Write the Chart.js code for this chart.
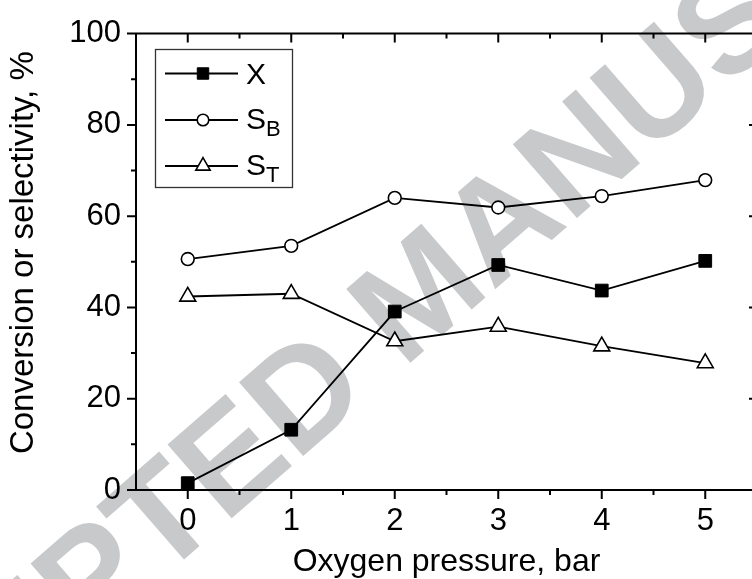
<!DOCTYPE html>
<html><head><meta charset="utf-8">
<script src="https://cdn.jsdelivr.net/npm/chart.js@4.4.0/dist/chart.umd.min.js"></script>
<style>
html,body{margin:0;padding:0;background:#fff;overflow:hidden;width:752px;height:579px;}
#wrap{width:752px;height:579px;overflow:hidden;position:relative;}
canvas{display:block;}
</style></head><body>
<div id="wrap"><canvas id="c" width="770" height="579"></canvas></div>
<script>
// ---- data ----
const pressure = [0, 1, 2, 3, 4, 5];
const conversionX = [1.5, 13.2, 39.1, 49.3, 43.7, 50.2];
const selectivityB = [50.6, 53.5, 64.0, 61.9, 64.4, 67.9];
const selectivityT = [42.4, 43.0, 32.6, 35.8, 31.5, 27.8];
const xTickValues = [0, 1, 2, 3, 4, 5];
const xMinorValues = [0.5, 1.5, 2.5, 3.5, 4.5];
const yTickValues = [0, 20, 40, 60, 80, 100];
const yMinorValues = [10, 30, 50, 70, 90];
const seriesNames = ['X', 'S', 'S'];
const seriesSubs = ['', 'B', 'T'];
const xTitle = 'Oxygen pressure, bar';
const yTitle = '\u00a0\u00a0Conversion or selectivity, %';
const watermarkText = 'ACCEPTED MANUSCRIPT';

const FAM = '"Liberation Sans", Arial, Helvetica, sans-serif';

function pts(vals) { return pressure.map((p, i) => ({ x: p, y: vals[i] })); }

function drawMarker(ctx, style, r, x, y, bw) {
  if (Chart.helpers && Chart.helpers.drawPoint) {
    Chart.helpers.drawPoint(ctx, { pointStyle: style, radius: r, rotation: 0, borderWidth: bw }, x, y);
    return;
  }
  ctx.beginPath();
  if (style === 'rect') { const s = r * Math.SQRT1_2; ctx.rect(x - s, y - s, 2 * s, 2 * s); }
  else if (style === 'triangle') { ctx.moveTo(x, y - r); ctx.lineTo(x + 0.866 * r, y + 0.5 * r); ctx.lineTo(x - 0.866 * r, y + 0.5 * r); ctx.closePath(); }
  else { ctx.arc(x, y, r, 0, Math.PI * 2); }
  ctx.fill(); ctx.stroke();
}

const watermarkPlugin = {
  id: 'wm',
  beforeDraw(chart) {
    const ctx = chart.ctx;
    ctx.save();
    ctx.fillStyle = '#fff';
    ctx.fillRect(0, 0, chart.width, chart.height);
    ctx.translate(90, 574);
    ctx.rotate(-41 * Math.PI / 180);
    ctx.font = 'bold 142px ' + FAM;
    ctx.fillStyle = '#c8c9cb';
    ctx.textBaseline = 'alphabetic';
    const pre = ctx.measureText('ACCE').width + ctx.measureText('P').width / 2;
    ctx.fillText(watermarkText, -pre, 0.716 * 142 / 2);
    ctx.restore();
  }
};

const ticksPlugin = {
  id: 'ticksFrame',
  afterDraw(chart) {
    const { ctx, chartArea: a, scales: { x, y } } = chart;
    ctx.save();
    ctx.strokeStyle = '#000';
    ctx.lineWidth = 2;
    ctx.beginPath();
    ctx.moveTo(a.left - 1, a.top); ctx.lineTo(a.right + 1, a.top);
    ctx.moveTo(a.right, a.top); ctx.lineTo(a.right, a.bottom + 1);
    yTickValues.forEach(v => { const p = y.getPixelForValue(v); ctx.moveTo(a.left - 9, p); ctx.lineTo(a.left, p); });
    yMinorValues.forEach(v => { const p = y.getPixelForValue(v); ctx.moveTo(a.left - 5, p); ctx.lineTo(a.left, p); });
    yTickValues.slice(1, -1).forEach(v => { const p = y.getPixelForValue(v); ctx.moveTo(a.right, p); ctx.lineTo(a.right - 8, p); });
    xTickValues.forEach(v => { const p = x.getPixelForValue(v);
      ctx.moveTo(p, a.bottom); ctx.lineTo(p, a.bottom + 9);
      ctx.moveTo(p, a.top); ctx.lineTo(p, a.top + 9); });
    xMinorValues.forEach(v => { const p = x.getPixelForValue(v);
      ctx.moveTo(p, a.bottom); ctx.lineTo(p, a.bottom + 5);
      ctx.moveTo(p, a.top); ctx.lineTo(p, a.top + 5); });
    ctx.stroke();
    ctx.restore();
  }
};

const legendPlugin = {
  id: 'legendBox',
  afterDraw(chart) {
    const ctx = chart.ctx;
    ctx.save();
    ctx.fillStyle = '#fff';
    ctx.fillRect(155, 49, 138, 139);
    ctx.strokeStyle = '#333';
    ctx.lineWidth = 1.3;
    ctx.strokeRect(155.5, 49.5, 137, 138);
    const rowY = [73.5, 120, 166];
    const baseY = [84, 129, 174.5];
    chart.data.datasets.forEach((ds, i) => {
      const yy = rowY[i];
      ctx.strokeStyle = '#000';
      ctx.lineWidth = 1.8;
      ctx.beginPath(); ctx.moveTo(165, yy); ctx.lineTo(238, yy); ctx.stroke();
      ctx.fillStyle = ds.pointBackgroundColor;
      ctx.strokeStyle = '#000';
      ctx.lineWidth = ds.pointBorderWidth;
      drawMarker(ctx, ds.pointStyle, ds.pointRadius * 0.9, 203, yy, ds.pointBorderWidth);
      ctx.fillStyle = '#000';
      ctx.textBaseline = 'alphabetic';
      ctx.textAlign = 'left';
      ctx.font = '30px ' + FAM;
      ctx.fillText(seriesNames[i], 246, baseY[i]);
      if (seriesSubs[i]) {
        const w = ctx.measureText(seriesNames[i]).width;
        ctx.font = '22px ' + FAM;
        ctx.fillText(seriesSubs[i], 246 + w, baseY[i] + 7);
      }
    });
    ctx.restore();
  }
};

const common = { borderColor: '#000', borderWidth: 1.8, tension: 0, pointBorderColor: '#000', pointBorderWidth: 1.6, fill: false };

new Chart(document.getElementById('c').getContext('2d'), {
  type: 'line',
  data: {
    datasets: [
      Object.assign({ label: 'X', data: pts(conversionX), pointStyle: 'rect', pointRadius: 9, pointBackgroundColor: '#000' }, common, { pointBorderWidth: 1 }),
      Object.assign({ label: 'SB', data: pts(selectivityB), pointStyle: 'circle', pointRadius: 6.4, pointBackgroundColor: '#fff' }, common),
      Object.assign({ label: 'ST', data: pts(selectivityT), pointStyle: 'triangle', pointRadius: 9.2, pointBackgroundColor: '#fff' }, common)
    ]
  },
  options: {
    responsive: false,
    animation: false,
    devicePixelRatio: 1,
    layout: { padding: { top: 32, right: 13, left: 0, bottom: 0 } },
    plugins: { legend: { display: false }, tooltip: { enabled: false } },
    scales: {
      x: {
        type: 'linear', min: -0.5, max: 5.5,
        afterBuildTicks: s => { s.ticks = xTickValues.map(v => ({ value: v })); },
        afterFit: s => { s.height = 89; },
        grid: { display: false, drawTicks: false },
        border: { display: true, color: '#000', width: 2 },
        ticks: { color: '#000', font: { family: FAM, size: 31 }, padding: 13, maxRotation: 0, autoSkip: false },
        title: { display: true, text: xTitle, color: '#000', font: { family: FAM, size: 32, lineHeight: 1.05 }, padding: { top: 0, bottom: 0 } }
      },
      y: {
        type: 'linear', min: 0, max: 100,
        afterBuildTicks: s => { s.ticks = yTickValues.map(v => ({ value: v })); },
        afterFit: s => { s.width = 136; },
        grid: { display: false, drawTicks: false },
        border: { display: true, color: '#000', width: 2 },
        ticks: { color: '#000', font: { family: FAM, size: 31 }, padding: 15, autoSkip: false },
        title: { display: true, text: yTitle, color: '#000', font: { family: FAM, size: 33, lineHeight: 1.2 }, padding: { top: 4, bottom: 0 } }
      }
    }
  },
  plugins: [watermarkPlugin, ticksPlugin, legendPlugin]
});
</script>
</body></html>
